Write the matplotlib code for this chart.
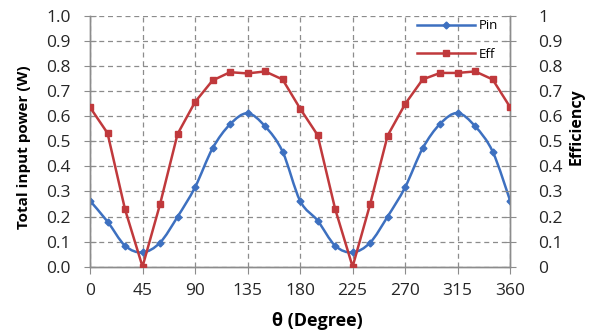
import numpy as np
import matplotlib
matplotlib.use('Agg')
import matplotlib.pyplot as plt
from matplotlib.path import Path
from matplotlib.patches import PathPatch

# angle (degree)
theta = [0, 15, 30, 45, 60, 75, 90, 105, 120, 135, 150, 165, 180,
         195, 210, 225, 240, 255, 270, 285, 300, 315, 330, 345, 360]
# total input power (W)
pin = [0.263, 0.180, 0.084, 0.057, 0.096, 0.199, 0.317, 0.472, 0.568,
       0.612, 0.560, 0.459, 0.263, 0.184, 0.084, 0.057, 0.096, 0.200,
       0.317, 0.472, 0.570, 0.613, 0.560, 0.459, 0.263]
# efficiency
eff = [0.636, 0.533, 0.229, 0.0, 0.249, 0.529, 0.657, 0.743, 0.776,
       0.771, 0.779, 0.747, 0.631, 0.525, 0.231, 0.0, 0.249, 0.523,
       0.649, 0.747, 0.773, 0.773, 0.779, 0.747, 0.636]

x_ticks = [0, 45, 90, 135, 180, 225, 270, 315, 360]
left_ticks = [0.0, 0.1, 0.2, 0.3, 0.4, 0.5, 0.6, 0.7, 0.8, 0.9, 1.0]
right_labels = ['0', '0.1', '0.2', '0.3', '0.4', '0.5', '0.6', '0.7', '0.8', '0.9', '1']

BLUE = '#3d70c0'
RED = '#c0393c'
GRAY = '#8c8c8c'
TXT = '#262626'

plt.rcParams['font.family'] = ['Open Sans', 'DejaVu Sans']


def smooth_path(xs, ys):
    # excel-like smoothed line, bezier through the points
    xs = np.asarray(xs, float)
    ys = np.asarray(ys, float)
    verts = [(xs[0], ys[0])]
    codes = [Path.MOVETO]
    n = len(xs)
    for i in range(n - 1):
        i0 = max(i - 1, 0)
        i3 = min(i + 2, n - 1)
        c1 = (xs[i] + (xs[i + 1] - xs[i0]) / 6, ys[i] + (ys[i + 1] - ys[i0]) / 6)
        c2 = (xs[i + 1] - (xs[i3] - xs[i]) / 6, ys[i + 1] - (ys[i3] - ys[i]) / 6)
        verts += [c1, c2, (xs[i + 1], ys[i + 1])]
        codes += [Path.CURVE4] * 3
    return Path(verts, codes)


fig = plt.figure(figsize=(5.96, 3.34), dpi=100)
ax = fig.add_axes([0.151, 0.2015, 0.705, 0.7505])
ax2 = ax.twinx()

ax.add_patch(PathPatch(smooth_path(theta, pin), fill=False, color=BLUE, lw=1.8, zorder=3))
ax.plot(theta, pin, ls='none', marker='D', ms=3.5, color=BLUE, zorder=4)
ax2.plot(theta, eff, color=RED, lw=1.8, marker='s', ms=5, zorder=4)

ax.set_xlim(0, 360)
ax.set_ylim(0, 1.0)
ax2.set_ylim(0, 1.0)
ax.set_xticks(x_ticks)
ax.set_yticks(left_ticks)
ax.set_yticklabels(['%.1f' % v for v in left_ticks])
ax2.set_yticks(left_ticks)
ax2.set_yticklabels(right_labels)

ax.grid(True, ls=(0, (4, 3)), color=GRAY, lw=0.9)
for a in (ax, ax2):
    a.spines['top'].set_visible(False)
    for s in ('left', 'right', 'bottom'):
        a.spines[s].set_color(GRAY)
        a.spines[s].set_linewidth(1.0)
ax.tick_params(axis='x', direction='out', length=5, color=GRAY, labelsize=12.5,
               labelcolor=TXT, pad=7)
ax.tick_params(axis='y', direction='inout', length=8, color=GRAY, labelsize=12.5,
               labelcolor=TXT, pad=10)
ax2.tick_params(axis='y', direction='inout', length=8, color=GRAY, labelsize=12.5,
                labelcolor=TXT, pad=16)

ax.set_xlabel('θ (Degree)', fontsize=13, fontweight='bold', color='black')
ax.xaxis.set_label_coords(0.54, -0.18)
ax.set_ylabel('Total input power (W)', fontsize=11, fontweight='bold', color='black')
ax.yaxis.set_label_coords(-0.14, 0.475)
ax2.set_ylabel('Efficiency', fontsize=11.5, fontweight='bold', color='black')
ax2.yaxis.set_label_coords(1.14, 0.56)

h1, = ax.plot([], [], color=BLUE, lw=1.8, marker='D', ms=3.5)
h2, = ax.plot([], [], color=RED, lw=1.8, marker='s', ms=5)
leg = ax.legend([h1, h2], ['Pin', 'Eff'], loc='upper right', bbox_to_anchor=(1.0, 1.035),
                frameon=False, fontsize=9.5, handlelength=4.4, handletextpad=0.3,
                labelspacing=1.2)

fig.savefig('out.png', dpi=100)
